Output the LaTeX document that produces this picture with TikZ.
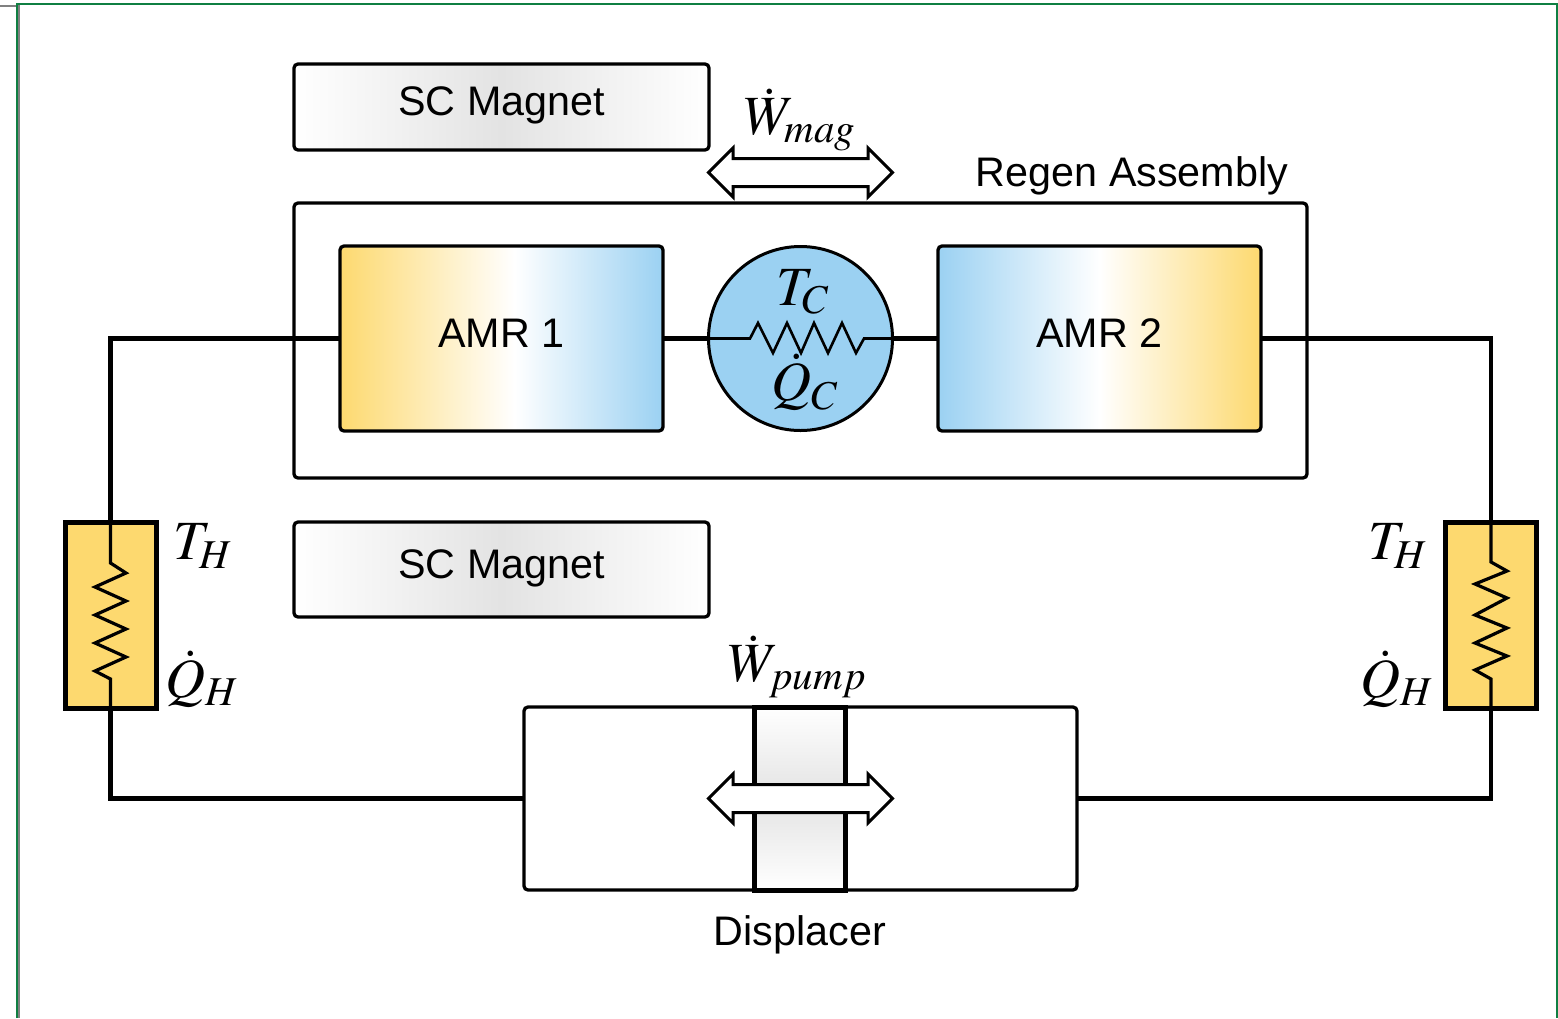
\documentclass[tikz,border=0pt]{standalone}
\usepackage{amsmath}
\usepackage{mathptmx}
\usepackage[no-math]{fontspec}
\setmainfont{Liberation Sans}
\usepackage{xcolor}
\usepackage{tikz}
\usetikzlibrary{
	calc,
	positioning,
	shapes.arrows
}
\definecolor{coldBlue}{HTML}{9BD1F2}
\definecolor{hotYellow}{HTML}{FDD96F}
\definecolor{magnetGray}{HTML}{E3E3E3}
\definecolor{frameGreen}{HTML}{0F7F42}
\pgfdeclarehorizontalshading{magnetShade}{100bp}{color(0bp)=(white); color(25bp)=(white); color(50bp)=(magnetGray); color(75bp)=(white); color(100bp)=(white)}
\pgfdeclarehorizontalshading{amrHotCold}{100bp}{color(0bp)=(hotYellow); color(25bp)=(hotYellow); color(52bp)=(white); color(75bp)=(coldBlue); color(100bp)=(coldBlue)}
\pgfdeclarehorizontalshading{amrColdHot}{100bp}{color(0bp)=(coldBlue); color(25bp)=(coldBlue); color(50bp)=(white); color(75bp)=(hotYellow); color(100bp)=(hotYellow)}
\pgfdeclareverticalshading{pistonShade}{100bp}{color(0bp)=(white); color(25bp)=(white); color(50bp)=(magnetGray); color(75bp)=(white); color(100bp)=(white)}
\newcommand{\Unit}{0.02cm}
\tikzset{
	box/.style={draw, rounded corners=4*\Unit, line width=3.3*\Unit, inner sep=0, outer sep=0,
		text height=0.53cm, text depth=0.18cm, font=\fontsize{23.5}{28}\selectfont},
	exchanger/.style={draw, line width=5*\Unit, fill=hotYellow, inner sep=0, outer sep=0,
		minimum width=91*\Unit, minimum height=186*\Unit},
	wire/.style={line width=4.5*\Unit},
	thinwire/.style={line width=3.2*\Unit},
	sym/.style={inner sep=0, font=\fontsize{31.5}{38}\selectfont},
	txt/.style={inner sep=0, font=\fontsize{23.5}{28}\selectfont},
	motion/.style={draw, fill=white, double arrow, line width=3*\Unit, inner xsep=0, inner ysep=12.5*\Unit,
		outer sep=0, double arrow head extend=10.5*\Unit, minimum height=184*\Unit}
}

\begin{document}
\begin{tikzpicture}
	[x=0.02cm, y=-0.02cm]
	\useasboundingbox (0,0) rectangle (1558,1018);

	% page frame
	\begin{scope}
		\draw [line width=2*\Unit, gray] (0,5.5) -- (19,5.5) -- (19,1018);
		\draw [line width=2*\Unit, frameGreen] (17,1018) -- (17,4) -- (1557,4) -- (1557,1018);
	\end{scope}

	% magnets
	\begin{scope}
		\node [box, shading=magnetShade, minimum width=415*\Unit, minimum height=86*\Unit] (magnetTop) at (501.5,107) {SC Magnet};
		\node [box, shading=magnetShade, minimum width=415*\Unit, minimum height=95*\Unit] (magnetBottom) at (501.5,569.5) {SC Magnet};
	\end{scope}

	% regenerator
	\begin{scope}
		\node [box, minimum width=1013*\Unit, minimum height=275*\Unit] (regen) at (800.5,340.5) {};
		\node [box, shading=amrHotCold, minimum width=323*\Unit, minimum height=185*\Unit] (amrOne) at (501.5,338.5) {AMR 1};
		\node [box, shading=amrColdHot, minimum width=323*\Unit, minimum height=185*\Unit] (amrTwo) at (1099.5,338.5) {AMR 2};
		\node [draw, circle, fill=coldBlue, line width=3*\Unit, inner sep=0, outer sep=0, minimum size=184*\Unit] (cold) at (800.5,338.5) {};
		\node [txt] (regenLabel) at (1132,176) {Regen Assembly};
	\end{scope}

	% displacer
	\begin{scope}
		\node [box, minimum width=553*\Unit, minimum height=183*\Unit] (displacer) at (800.5,798.5) {};
		\node [draw, line width=5*\Unit, shading=pistonShade, inner sep=0, outer sep=0, minimum width=91*\Unit, minimum height=183*\Unit] (piston) at (800,798.5) {};
		\node [txt] (displacerLabel) at (800,935) {Displacer};
	\end{scope}

	% heat exchangers
	\begin{scope}
		\node [exchanger] (hotLeft) at (110.5,615) {};
		\node [exchanger] (hotRight) at (1491,615) {};
	\end{scope}

	% arrows
	\node [motion] (magnetArrow) at (800.5,172.5) {};
	\node [motion] (pumpArrow) at (800.5,798.5) {};

	% flow loop
	\begin{scope} [wire]
		\draw (amrOne.west) -| (hotLeft.north);
		\draw (hotLeft.south) |- (displacer.west);
		\draw (amrTwo.east) -| (hotRight.north);
		\draw (hotRight.south) |- (displacer.east);
		\draw (amrOne.east) -- (cold.west);
		\draw (cold.east) -- (amrTwo.west);
	\end{scope}

	% resistors
	\begin{scope} [thinwire, line join=miter]
		\draw [line width=2.6*\Unit] (cold.west) -- (750,338.5) -- (758,323) -- (773,353) -- (787,323) -- (801,353)
			-- (814,323) -- (828,353) -- (842,323) -- (856,353) -- (864,338.5) -- (cold.east);
		\draw (hotLeft.north) -- (110.5,563) -- (126,573) -- (95,587) -- (126,601) -- (95,615)
			-- (126,629) -- (95,643) -- (126,657) -- (95,671) -- (110.5,679) -- (hotLeft.south);
		\draw (hotRight.north) -- (1491,562) -- (1507,571) -- (1475,584) -- (1507,598) -- (1475,615)
			-- (1507,628) -- (1475,643) -- (1507,656) -- (1475,670) -- (1491,679) -- (hotRight.south);
	\end{scope}

	% labels
	\begin{scope}
		\node [sym] (workMag) at (800,120) {\(\dot{W}_{mag}\)};
		\node [sym] (workPump) at (798,667) {\(\dot{W}_{pump}\)};
		\node [sym] (tempCold) at (803,292) {\(T_C\)};
		\node [sym] (heatCold) at (805,382) {\(\dot{Q}_C\)};
		\node [sym] (tempLeft) at (203,546) {\(T_H\)};
		\node [sym] (heatLeft) at (202,679) {\(\dot{Q}_H\)};
		\node [sym] (tempRight) at (1398,546) {\(T_H\)};
		\node [sym] (heatRight) at (1397,679) {\(\dot{Q}_H\)};
	\end{scope}

\end{tikzpicture}
\end{document}
